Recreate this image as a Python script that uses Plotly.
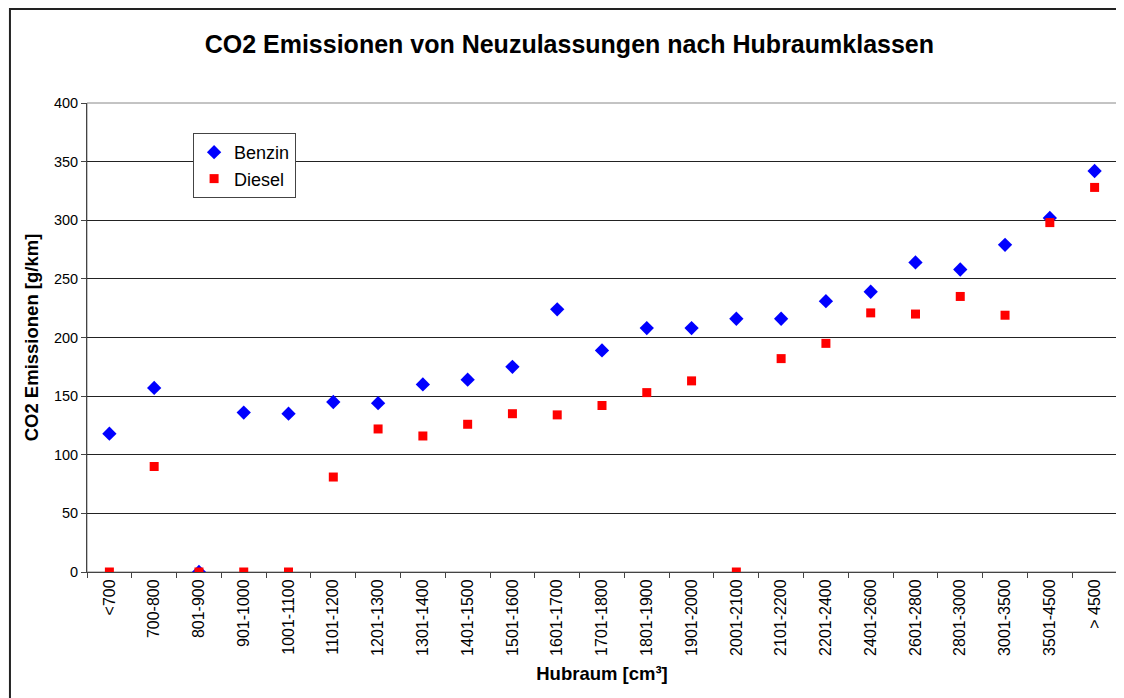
import plotly.graph_objects as go

# ── Data ──────────────────────────────────────────────────────────────────────
hubraum = ['<700', '700-800', '801-900', '901-1000', '1001-1100', '1101-1200',
           '1201-1300', '1301-1400', '1401-1500', '1501-1600', '1601-1700',
           '1701-1800', '1801-1900', '1901-2000', '2001-2100', '2101-2200',
           '2201-2400', '2401-2600', '2601-2800', '2801-3000', '3001-3500',
           '3501-4500', '> 4500']

benzin = [118, 157, 0, 136, 135, 145, 144, 160, 164, 175, 224, 189, 208, 208,
          216, 216, 231, 239, 264, 258, 279, 302, 342]

diesel = [0, 90, 0, 0, 0, 81, 122, 116, 126, 135, 134, 142, 153, 163,
          0, 182, 195, 221, 220, 235, 219, 298, 328]

y_ticks = [0, 50, 100, 150, 200, 250, 300, 350, 400]

FONT = 'Liberation Sans, Arial, sans-serif'

# ── Chart ─────────────────────────────────────────────────────────────────────
fig = go.Figure()
fig.add_trace(go.Scatter(
    x=hubraum, y=benzin, mode='markers', name='Benzin',
    marker=dict(symbol='diamond', size=11, color='#0000FF'),
))
fig.add_trace(go.Scatter(
    x=hubraum, y=diesel, mode='markers', name='Diesel',
    marker=dict(symbol='square', size=9, color='#FF0000'),
))

# page body has an 8px margin, so the figure is sized to fill the rest
fig.update_layout(
    width=1116, height=690,
    margin=dict(l=79, r=7, t=95, b=126),
    paper_bgcolor='white', plot_bgcolor='white',
    font=dict(family=FONT, color='black', size=14),
    title=dict(text='<b>CO2 Emissionen von Neuzulassungen nach Hubraumklassen</b>',
               x=0.503, xanchor='center', y=0.948, yanchor='middle',
               font=dict(size=25, family=FONT)),
    showlegend=True,
    legend=dict(x=0.103, y=0.936, xanchor='left', yanchor='top',
                bgcolor='white', bordercolor='#444', borderwidth=1,
                font=dict(size=18, family=FONT), itemwidth=30,
                tracegroupgap=0),
    shapes=[
        # outer chart frame (runs past the right and bottom edge)
        dict(type='rect', xref='paper', yref='paper',
             x0=-0.0748, x1=1.02, y0=-0.30, y1=1.2004,
             line=dict(color='#222', width=2), layer='below'),
        # plot area border
        dict(type='rect', xref='paper', yref='paper',
             x0=0, x1=1, y0=0, y1=1,
             line=dict(color='#888', width=1), layer='below'),
    ],
)

fig.update_xaxes(
    type='category', categoryorder='array', categoryarray=hubraum,
    range=[-0.5, len(hubraum) - 0.5],
    tickangle=-90, tickfont=dict(size=16),
    ticks='outside', ticklen=5, tickcolor='#444', tickson='boundaries',
    showline=True, linecolor='#444', linewidth=1,
    showgrid=False, zeroline=False,
    title=dict(text='<b>Hubraum [cm³]</b>', font=dict(size=18.5), standoff=12),
)
fig.update_yaxes(
    range=[0, 400], tickvals=y_ticks, tickfont=dict(size=14.5),
    ticks='outside', ticklen=5, tickcolor='#444',
    showline=True, linecolor='#444', linewidth=1,
    showgrid=True, gridcolor='#222', gridwidth=1, zeroline=False,
    title=dict(text='<b>CO2 Emissionen [g/km]</b>', font=dict(size=18.5), standoff=10),
)

fig.write_html("out.html")
